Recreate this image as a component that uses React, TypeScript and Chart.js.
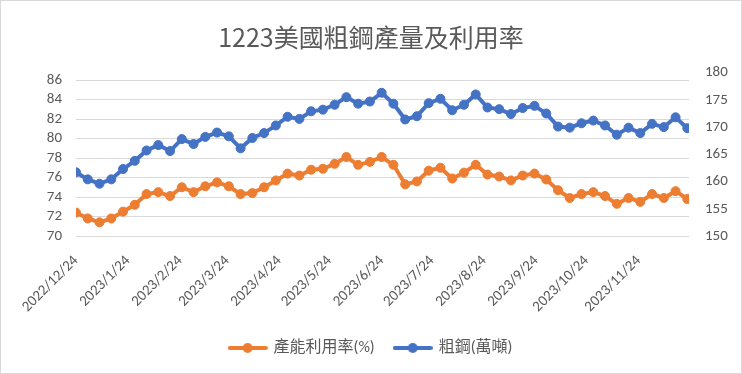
import React, { useEffect, useRef } from 'react';
import { Chart, registerables } from 'chart.js';

Chart.register(...registerables);

const TITLE = '1223美國粗鋼產量及利用率';
const seriesNames = ['產能利用率(%)', '粗鋼(萬噸)'];
const seriesColors = ['#ED7D31', '#4472C4'];

const weekDates = [
  '2022/12/24', '2022/12/31', '2023/1/7', '2023/1/14', '2023/1/21', '2023/1/28',
  '2023/2/4', '2023/2/11', '2023/2/18', '2023/2/25', '2023/3/4', '2023/3/11',
  '2023/3/18', '2023/3/25', '2023/4/1', '2023/4/8', '2023/4/15', '2023/4/22',
  '2023/4/29', '2023/5/6', '2023/5/13', '2023/5/20', '2023/5/27', '2023/6/3',
  '2023/6/10', '2023/6/17', '2023/6/24', '2023/7/1', '2023/7/8', '2023/7/15',
  '2023/7/22', '2023/7/29', '2023/8/5', '2023/8/12', '2023/8/19', '2023/8/26',
  '2023/9/2', '2023/9/9', '2023/9/16', '2023/9/23', '2023/9/30', '2023/10/7',
  '2023/10/14', '2023/10/21', '2023/10/28', '2023/11/4', '2023/11/11', '2023/11/18',
  '2023/11/25', '2023/12/2', '2023/12/9', '2023/12/16', '2023/12/23',
];

const utilization = [
  72.4, 71.8, 71.4, 71.8, 72.5, 73.2, 74.3, 74.5, 74.1, 75.0, 74.5,
  75.1, 75.5, 75.1, 74.3, 74.4, 75.0, 75.7, 76.4, 76.2, 76.8, 76.9,
  77.4, 78.1, 77.3, 77.6, 78.1, 77.3, 75.3, 75.6, 76.7, 77.0,
  75.9, 76.5, 77.3, 76.3, 76.1, 75.7, 76.2, 76.4, 75.8, 74.7,
  73.9, 74.3, 74.5, 74.1, 73.3, 73.9, 73.5, 74.3, 73.9, 74.6, 73.8,
];

const crudeSteel = [
  161.7, 160.4, 159.6, 160.4, 162.3, 163.8, 165.7, 166.7, 165.6, 167.8, 166.9,
  168.2, 169.0, 168.3, 166.1, 168.0, 168.9, 170.3, 171.9, 171.5, 172.9, 173.2,
  174.1, 175.5, 174.3, 174.7, 176.3, 174.3, 171.4, 172.0, 174.4, 175.2,
  173.1, 174.1, 176.0, 173.6, 173.3, 172.4, 173.5, 173.9, 172.5, 170.1,
  169.9, 170.7, 171.2, 170.3, 168.6, 169.9, 168.9, 170.6, 170.0, 171.8, 169.8,
];

const xTickDates = [
  '2022/12/24', '2023/1/24', '2023/2/24', '2023/3/24', '2023/4/24', '2023/5/24',
  '2023/6/24', '2023/7/24', '2023/8/24', '2023/9/24', '2023/10/24', '2023/11/24',
];
const leftTicks = [70, 72, 74, 76, 78, 80, 82, 84, 86];
const rightTicks = [150, 155, 160, 165, 170, 175, 180];

const DAY0 = Date.UTC(2022, 11, 24);
function dayOffset(s: string): number {
  const [y, m, d] = s.split('/').map(Number);
  return Math.round((Date.UTC(y, m - 1, d) - DAY0) / 86400000);
}

const TICK_FONT = { family: 'Carlito, Lato, "Noto Sans CJK TC", sans-serif', size: 15 };
const GREY = '#595959';

function legendImage(color: string): HTMLCanvasElement {
  const c = document.createElement('canvas');
  c.width = 40;
  c.height = 12;
  const g = c.getContext('2d')!;
  g.strokeStyle = color;
  g.lineWidth = 4;
  g.lineCap = 'round';
  g.beginPath();
  g.moveTo(2, 6);
  g.lineTo(38, 6);
  g.stroke();
  g.fillStyle = color;
  g.beginPath();
  g.arc(20, 6, 5, 0, Math.PI * 2);
  g.fill();
  return c;
}

const framePlugin = {
  id: 'frame',
  beforeDraw(chart: any) {
    const ctx = chart.ctx;
    ctx.save();
    ctx.fillStyle = '#ffffff';
    ctx.fillRect(0, 0, chart.width, chart.height);
    ctx.restore();
  },
  afterDraw(chart: any) {
    const ctx = chart.ctx;
    ctx.save();
    ctx.strokeStyle = '#d9d9d9';
    ctx.lineWidth = 1;
    ctx.strokeRect(0.5, 0.5, chart.width - 1, chart.height - 1);
    ctx.restore();
  },
};

export default function App() {
  const ref = useRef<HTMLCanvasElement | null>(null);

  useEffect(() => {
    if (!ref.current) return;
    const images = seriesColors.map(legendImage);
    const makeData = (vals: number[]) => weekDates.map((d, i) => ({ x: dayOffset(d), y: vals[i] }));
    const chart = new Chart(ref.current, {
      type: 'line',
      data: {
        datasets: [
          {
            label: seriesNames[0],
            data: makeData(utilization),
            yAxisID: 'yL',
            borderColor: seriesColors[0],
            backgroundColor: seriesColors[0],
            pointBackgroundColor: seriesColors[0],
            pointBorderColor: seriesColors[0],
            borderWidth: 4,
            pointRadius: 4.5,
            pointBorderWidth: 1,
            tension: 0,
          },
          {
            label: seriesNames[1],
            data: makeData(crudeSteel),
            yAxisID: 'yR',
            borderColor: seriesColors[1],
            backgroundColor: seriesColors[1],
            pointBackgroundColor: seriesColors[1],
            pointBorderColor: seriesColors[1],
            borderWidth: 4,
            pointRadius: 4.5,
            pointBorderWidth: 1,
            tension: 0,
          },
        ],
      },
      options: {
        animation: false,
        responsive: false,
        events: [],
        layout: { padding: { top: 0, left: 0, right: 0, bottom: 8 } },
        plugins: {
          title: {
            display: true,
            text: TITLE,
            color: GREY,
            font: { family: '"Noto Sans CJK TC", sans-serif', size: 25, weight: 'normal' },
            padding: { top: 22, bottom: 28 },
          },
          legend: {
            display: true,
            position: 'bottom',
            labels: {
              color: GREY,
              font: { family: 'Carlito, Lato, "Noto Sans CJK TC", sans-serif', size: 16 },
              usePointStyle: true,
              pointStyleWidth: 36,
              padding: 20,
              generateLabels: (ch: any) => {
                const items = Chart.defaults.plugins.legend.labels.generateLabels(ch);
                return items.map((it: any, i: number) => ({ ...it, pointStyle: images[i] }));
              },
            },
          },
          tooltip: { enabled: false },
        },
        scales: {
          x: {
            type: 'linear',
            min: 0,
            max: 365,
            afterBuildTicks: (s: any) => {
              s.ticks = xTickDates.map((d) => ({ value: dayOffset(d) }));
            },
            afterFit: (s: any) => {
              s.height = 84;
            },
            ticks: {
              autoSkip: false,
              minRotation: 45,
              maxRotation: 45,
              color: GREY,
              font: TICK_FONT,
              padding: 16,
              callback: (_v: any, i: number) => xTickDates[i],
            },
            grid: { display: false, drawTicks: false },
            border: { display: false },
          },
          yL: {
            type: 'linear',
            position: 'left',
            min: 70,
            max: 86,
            afterBuildTicks: (s: any) => {
              s.ticks = leftTicks.map((v) => ({ value: v }));
            },
            afterFit: (s: any) => {
              s.width = 76;
            },
            ticks: { color: GREY, font: TICK_FONT, padding: 14, autoSkip: false },
            grid: { color: '#d9d9d9', lineWidth: 1, drawTicks: false },
            border: { display: false },
          },
          yR: {
            type: 'linear',
            position: 'right',
            min: 150,
            max: 178.65,
            afterBuildTicks: (s: any) => {
              s.ticks = rightTicks.map((v) => ({ value: v }));
            },
            afterFit: (s: any) => {
              s.width = 53;
            },
            ticks: { color: GREY, font: TICK_FONT, padding: 16, autoSkip: false },
            grid: { display: false, drawTicks: false },
            border: { display: false },
          },
        },
      },
      plugins: [framePlugin],
    } as any);
    return () => chart.destroy();
  }, []);

  return (
    <div style={{ position: 'fixed', left: 0, top: 0, width: 742, height: 374, background: '#fff' }}>
      <canvas ref={ref} width={742} height={374} style={{ display: 'block' }} />
    </div>
  );
}
